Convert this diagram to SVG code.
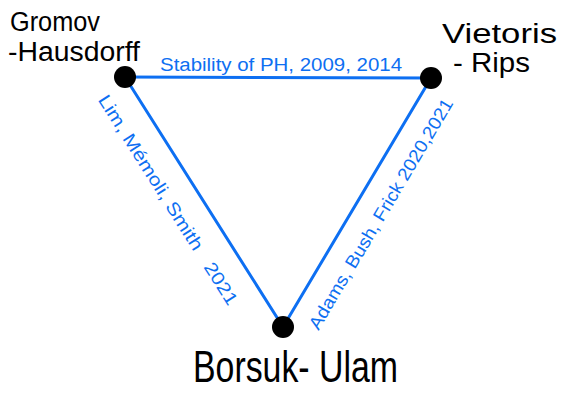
<svg xmlns="http://www.w3.org/2000/svg" width="565" height="393" viewBox="0 0 565 393">
<style>
.edge{stroke:#0d6ff2;stroke-width:3;fill:none;stroke-linecap:round}
.node{fill:#000}
.lbl{font-family:"Liberation Sans",Arial,sans-serif;fill:#000}
.elbl{font-family:"Liberation Sans",Arial,sans-serif;fill:#0d6ff2;font-size:18px}
</style>
<rect width="565" height="393" fill="#fff"/>
<g id="connectors">
<g id="e-top"><line class="edge" x1="125" y1="77" x2="431" y2="78"/>
<text class="elbl" x="160" y="71" font-size="20" textLength="242" lengthAdjust="spacingAndGlyphs">Stability of PH, 2009, 2014</text></g>
<g id="e-left"><line class="edge" x1="125" y1="77" x2="283" y2="327"/>
<text class="elbl" transform="translate(168,200) rotate(57.7)" x="0" y="6" text-anchor="middle" textLength="245" lengthAdjust="spacingAndGlyphs" xml:space="preserve">Lim, Mémoli, Smith   2021</text></g>
<g id="e-right"><line class="edge" x1="283" y1="327" x2="431" y2="78"/>
<text class="elbl" transform="translate(381,214) rotate(-59.3)" x="0" y="6" text-anchor="middle" textLength="265" lengthAdjust="spacingAndGlyphs">Adams, Bush, Frick 2020,2021</text></g>
</g>
<g id="gh"><circle class="node" cx="125" cy="77" r="11"/>
<text class="lbl" x="10" y="31" font-size="27" textLength="90" lengthAdjust="spacingAndGlyphs">Gromov</text>
<text class="lbl" x="8" y="61" font-size="27" textLength="132" lengthAdjust="spacingAndGlyphs">-Hausdorff</text></g>
<g id="vr"><circle class="node" cx="431" cy="78" r="11"/>
<text class="lbl" x="442" y="43" font-size="27" textLength="115" lengthAdjust="spacingAndGlyphs">Vietoris</text>
<text class="lbl" x="453" y="72" font-size="27" textLength="77" lengthAdjust="spacingAndGlyphs" xml:space="preserve">- Rips</text></g>
<g id="bu"><circle class="node" cx="283" cy="327" r="11"/>
<text class="lbl" x="193" y="382" font-size="44" textLength="205" lengthAdjust="spacingAndGlyphs" xml:space="preserve">Borsuk- Ulam</text></g>
</svg>
